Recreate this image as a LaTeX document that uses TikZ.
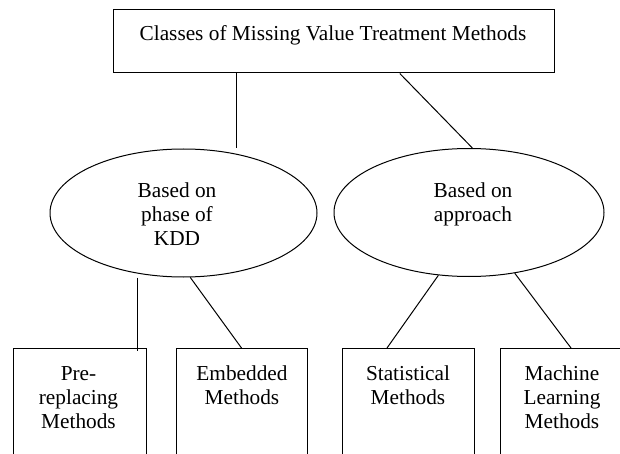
\documentclass[tikz,border=0pt]{standalone}
\usepackage{fontspec}
\setmainfont{Liberation Serif}
\usetikzlibrary{shapes.geometric,calc}
\newcommand{\diagfont}{\fontsize{10.65pt}{12pt}\selectfont}
\tikzset{
  classbox/.style={draw,rectangle,line width=0.5pt,inner sep=0pt,minimum width=#1,minimum height=61pt,anchor=north},
  basis/.style={draw,ellipse,line width=0.5pt,inner sep=0pt,minimum height=64pt,minimum width=#1},
  caption/.style={inner sep=0pt,anchor=north,align=center,font=\diagfont},
  link/.style={line width=0.5pt}
}
\begin{document}
\begin{tikzpicture}[x=0.5pt,y=-0.5pt]
    \useasboundingbox (0,0) rectangle (620,454);
    \clip (0,0) rectangle (620,454);
    \node[draw,rectangle,line width=0.5pt,inner sep=0pt,minimum width=220.5pt,minimum height=31.75pt] (top) at (333.5,41.25) {};
    \node[caption] (toptext) at (333,23.4) {\strut Classes of Missing Value Treatment Methods};
    % second level
    \node[basis=133.5pt] (kdd) at (183.5,213) {};
    \node[caption] (kddtext) at (177,180.4) {\strut Based on\\phase of\\KDD};
    \node[basis=135pt] (approach) at (469,212.5) {};
    \node[caption] (approachtext) at (473,180.4) {\strut Based on\\approach};
    % third level
    \node[classbox=66.5pt] (prerep) at (79.5,348) {};
    \node[caption] (prereptext) at (78.5,363.4) {\strut Pre-\\replacing\\Methods};
    \node[classbox=65.5pt] (embedded) at (241.5,348) {};
    \node[caption] (embeddedtext) at (242,363.4) {\strut Embedded\\Methods};
    \node[classbox=66pt] (statistical) at (408,348) {};
    \node[caption] (statisticaltext) at (408,363.4) {\strut Statistical\\Methods};
    \node[classbox=62pt] (machine) at (562,348) {};
    \node[caption] (machinetext) at (562,363.4) {\strut Machine\\Learning\\Methods};
    % links
    \draw[link,shorten >=3pt] (kdd.48 |- top.south) -- (kdd.48);
    \draw[link] ($(top.south west)!0.65!(top.south east)$) -- (approach.87);
    \draw[link] ([xshift=-4.5pt]prerep.north east |- kdd.south) -- ([xshift=-4.5pt,yshift=-1.5pt]prerep.north east);
    \draw[link] (kdd.-84) -- (embedded.north);
    \draw[link] (approach.-116) -- ([xshift=-10.5pt]statistical.north);
    \draw[link] (approach.-53) -- ([xshift=4.5pt]machine.north);
\end{tikzpicture}
\end{document}
